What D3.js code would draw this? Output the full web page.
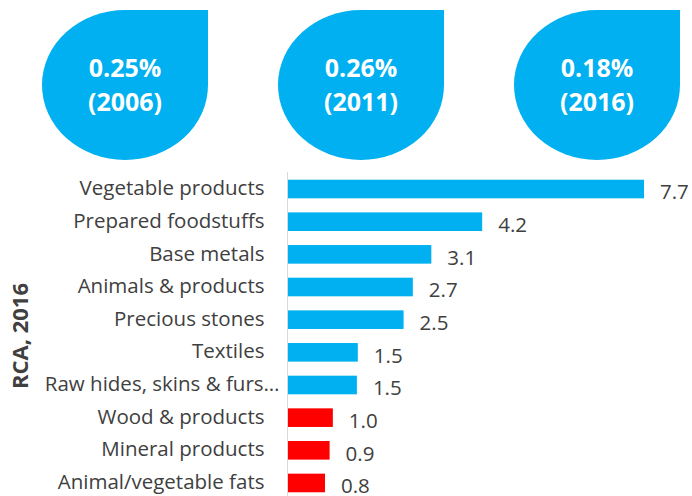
<!DOCTYPE html>
<html>
<head>
<meta charset="utf-8">
<script src="https://cdn.jsdelivr.net/npm/d3@7"></script>
<style>
  body { margin: 0; background: #fff; }
  text { font-family: "Open Sans", sans-serif; }
</style>
</head>
<body>
<script>
// export share bubbles
var shareValues = ['0.25%', '0.26%', '0.18%'];
var shareYears = ['2006', '2011', '2016'];

// RCA by product group, 2016
var categories = [
    'Vegetable products',
    'Prepared foodstuffs',
    'Base metals ',
    'Animals & products',
    'Precious stones',
    'Textiles ',
    'Raw hides, skins & furs…',
    'Wood & products',
    'Mineral products',
    'Animal/vegetable fats'
];
var rcaValues = [7.7, 4.2, 3.1, 2.7, 2.5, 1.51, 1.49, 0.97, 0.9, 0.8];

var svgWidth = 692, svgHeight = 496;
var blue = '#00b0f0', red = '#ff0000', textCol = '#404040';

var svg = d3.select('body')
    .append('svg')
    .attr('width', svgWidth)
    .attr('height', svgHeight);

// drops
var dropX = d3.scalePoint()
    .domain(shareYears)
    .range([125, 597]);

var rx = 83, ry = 75, top0 = 10;

function dropPath(cx) {
    var x0 = cx - rx, x1 = cx + rx, cy = top0 + ry, y1 = top0 + 2 * ry;
    return 'M' + x1 + ',' + top0 +
        'L' + x1 + ',' + cy +
        'A' + rx + ',' + ry + ' 0 0 1 ' + cx + ',' + y1 +
        'A' + rx + ',' + ry + ' 0 0 1 ' + x0 + ',' + cy +
        'A' + rx + ',' + ry + ' 0 0 1 ' + cx + ',' + top0 + 'Z';
}

var drops = svg.selectAll('g.drop')
    .data(shareYears)
    .enter()
    .append('g')
    .attr('class', 'drop');

drops.append('path')
    .attr('d', function(d) { return dropPath(dropX(d)); })
    .attr('fill', blue);

drops.append('text')
    .attr('x', function(d) { return dropX(d); })
    .attr('y', 77)
    .attr('text-anchor', 'middle')
    .attr('fill', '#fff')
    .style('font-weight', 'bold')
    .style('font-size', '25px')
    .text(function(d, i) { return shareValues[i]; });

drops.append('text')
    .attr('x', function(d) { return dropX(d); })
    .attr('y', 111)
    .attr('text-anchor', 'middle')
    .attr('fill', '#fff')
    .style('font-weight', 'bold')
    .style('font-size', '25px')
    .text(function(d) { return '(' + d + ')'; });

// bars
var xScale = d3.scaleLinear()
    .domain([0, d3.max(rcaValues)])
    .range([288, 644]);

var yScale = d3.scaleBand()
    .domain(categories)
    .range([172.7, 499.3])
    .paddingInner(0.43)
    .paddingOuter(0.215);

svg.selectAll('rect.bar')
    .data(rcaValues)
    .enter()
    .append('rect')
    .attr('class', 'bar')
    .attr('x', xScale(0))
    .attr('y', function(d, i) { return yScale(categories[i]); })
    .attr('width', function(d) { return xScale(d) - xScale(0); })
    .attr('height', yScale.bandwidth())
    .attr('fill', function(d) { return d < 1 ? red : blue; });

svg.selectAll('text.val')
    .data(rcaValues)
    .enter()
    .append('text')
    .attr('class', 'val')
    .attr('x', function(d) { return xScale(d) + 16; })
    .attr('y', function(d, i) { return yScale(categories[i]) + yScale.bandwidth() / 2; })
    .attr('dy', '0.5em')
    .attr('fill', textCol)
    .style('font-size', '20.5px')
    .text(function(d) { return d3.format('.1f')(d); });

var yAxis = svg.append('g')
    .attr('transform', 'translate(287.5,0)')
    .call(d3.axisLeft(yScale).tickSize(0).tickPadding(23));

yAxis.select('.domain')
    .attr('stroke', '#d9d9d9')
    .attr('d', 'M0,172V496');

// truncated label sits closer to the axis, as Excel draws it
yAxis.selectAll('text')
    .attr('fill', textCol)
    .attr('dy', '0.3em')
    .attr('dx', function(d) { return d.slice(-1) === '…' ? 15 : 0; })
    .style('font-size', '20.5px')
    .style('font-family', '"Open Sans", sans-serif');

svg.append('text')
    .attr('transform', 'translate(28,336) rotate(-90)')
    .attr('text-anchor', 'middle')
    .attr('fill', textCol)
    .style('font-weight', 'bold')
    .style('font-size', '22px')
    .text('RCA, 2016');
</script>
</body>
</html>
